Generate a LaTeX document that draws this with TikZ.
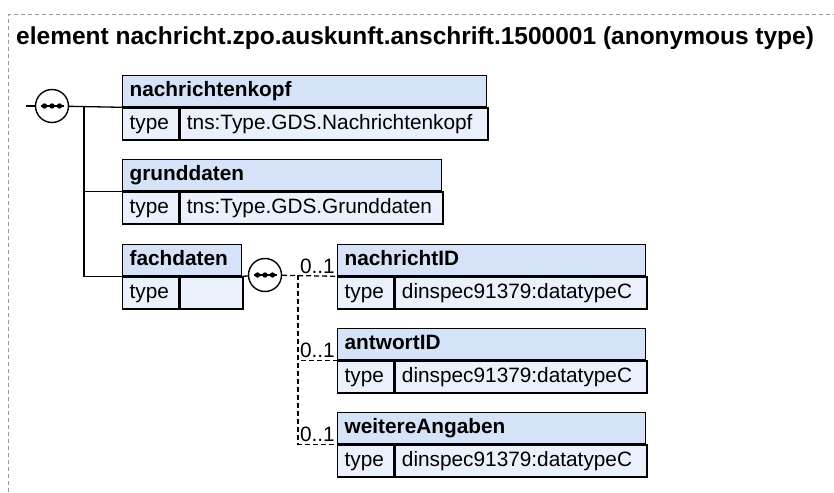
\documentclass[tikz,border=0pt]{standalone}
\usepackage{fontspec}
\setmainfont{Liberation Sans}
\usetikzlibrary{positioning}
\definecolor{hdrfill}{HTML}{D6E2F7}
\definecolor{rowfill}{HTML}{EBF1FC}
\definecolor{framegray}{HTML}{999999}
\tikzset{
  hdr/.style  = {draw, fill=hdrfill, line width=1.3pt, anchor=north west,
                 inner xsep=7pt, inner ysep=0pt, minimum height=31pt,
                 text height=15pt, text depth=4pt, align=left, text width=#1,
                 font=\bfseries\fontsize{20.8}{25}\selectfont},
  cell/.style = {draw, fill=rowfill, line width=1.3pt, inner xsep=7pt,
                 inner ysep=0pt, minimum height=32pt, text height=15pt,
                 text depth=4pt, align=left, text width=#1,
                 font=\fontsize{20.8}{25}\selectfont},
  seq/.style  = {draw, circle, fill=white, line width=1.4pt,
                 minimum size=33pt, inner sep=0pt},
  link/.style = {line width=1.3pt},
  opt/.style  = {line width=1.3pt, dash pattern=on 5pt off 3pt},
  card/.style = {font=\fontsize{20.8}{25}\selectfont, inner sep=0pt},
}

\begin{document}
\begin{tikzpicture}[x=1pt, y=-1pt]
  \useasboundingbox (0,0) rectangle (834,492);
  \draw[framegray, line width=1pt, dash pattern=on 4pt off 3pt] (8,492) |- (834,15);
  \node[anchor=base west, inner sep=0pt, font=\bfseries\fontsize{24.5}{29}\selectfont]
    (title) at (16,45) {element nachricht.zpo.auskunft.anschrift.1500001 (anonymous type)};

  % left branch
  \node[hdr=350pt] (nk) at (122,75) {nachrichtenkopf};
  \node[cell=42pt, below right=0pt and 0pt of nk.south west] (nktyp) {type};
  \node[cell=294pt, right=0pt of nktyp] (nkval) {tns:Type.GDS.Nachrichtenkopf};

  \node[hdr=305pt] (gd) at (122,159) {grunddaten};
  \node[cell=42pt, below right=0pt and 0pt of gd.south west] (gdtyp) {type};
  \node[cell=249pt, right=0pt of gdtyp] (gdval) {tns:Type.GDS.Grunddaten};

  \node[hdr=105pt] (fd) at (122,244) {fachdaten};
  \node[cell=42pt, below right=0pt and 0pt of fd.south west] (fdtyp) {type};
  \node[cell=49pt, right=0pt of fdtyp] (fdval) {};

  % right branch
  \node[hdr=294pt] (ni) at (337,244) {nachrichtID};
  \node[cell=42pt, below right=0pt and 0pt of ni.south west] (nityp) {type};
  \node[cell=238pt, right=0pt of nityp] (nival) {dinspec91379:datatypeC};

  \node[hdr=294pt] (aw) at (337,328) {antwortID};
  \node[cell=42pt, below right=0pt and 0pt of aw.south west] (awtyp) {type};
  \node[cell=238pt, right=0pt of awtyp] (awval) {dinspec91379:datatypeC};

  \node[hdr=294pt] (wa) at (337,412) {weitereAngaben};
  \node[cell=42pt, below right=0pt and 0pt of wa.south west] (watyp) {type};
  \node[cell=238pt, right=0pt of watyp] (waval) {dinspec91379:datatypeC};

  % sequences
  \node[seq] (s1) at (52,106) {};
  \node[seq] (s2) at (265,275) {};
  \foreach \s in {s1, s2}{
    \draw[link] ([xshift=-11.5pt]\s.center) -- ([xshift=11.5pt]\s.center);
    \foreach \d in {-7.5, 0, 7.5}{ \fill ([xshift=\d pt]\s.center) circle (2.7pt); }
  }

  % connectors
  \coordinate (in1) at (26,106);
  \coordinate (j1) at (84,106);
  \coordinate (j2) at (298,275);
  \draw[link] (in1) -- (s1);
  \draw[link] (s1) -- (nk.south west);
  \draw[link] (j1) |- (gd.south west);
  \draw[link] (j1) |- (fd.south west);
  \draw[link] (fd.south east) -- (s2);
  \draw[opt] (s2) -- (ni.south west);
  \draw[opt] (j2) |- (aw.south west);
  \draw[opt] (j2) |- (wa.south west);

  \node[card, anchor=base east] (c1) at ([xshift=-2pt, yshift=3pt]ni.south west) {0..1};
  \node[card, anchor=base east] (c2) at ([xshift=-2pt, yshift=3pt]aw.south west) {0..1};
  \node[card, anchor=base east] (c3) at ([xshift=-2pt, yshift=3pt]wa.south west) {0..1};
\end{tikzpicture}
\end{document}
